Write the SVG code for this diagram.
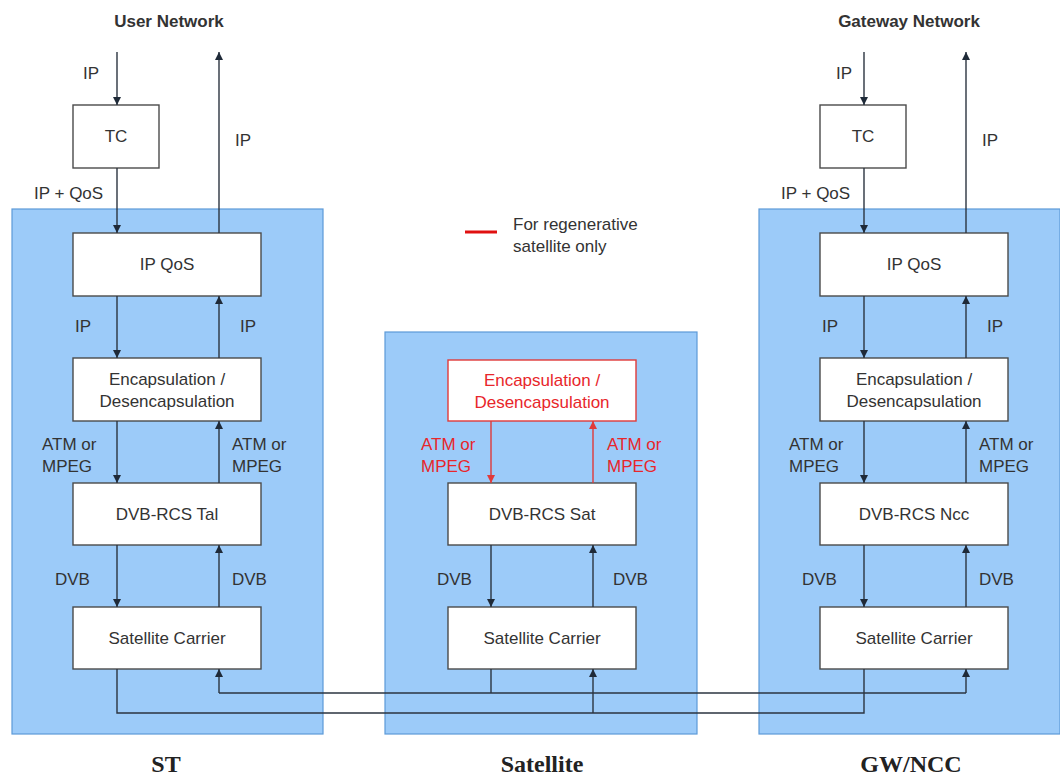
<svg xmlns="http://www.w3.org/2000/svg" width="1060" height="776" viewBox="0 0 1060 776">
<defs>
<style>
.panel{fill:#9ccbf9;stroke:#5d9ad8;stroke-width:1.2}
.box{fill:#fff;stroke:#4a4a4a;stroke-width:1.4}
.rbox{fill:#fff;stroke:#e03a3a;stroke-width:1.4}
.t{font-family:"Liberation Sans",Arial,sans-serif;font-size:17px;fill:#333}
.bt{font-family:"Liberation Sans",Arial,sans-serif;font-size:17px;fill:#333;text-anchor:middle}
.rt{font-family:"Liberation Sans",Arial,sans-serif;font-size:17px;fill:#e8262b}
.rbt{font-family:"Liberation Sans",Arial,sans-serif;font-size:17px;fill:#e8262b;text-anchor:middle}
.hd{font-family:"Liberation Sans",Arial,sans-serif;font-size:17px;font-weight:bold;fill:#333;text-anchor:middle}
.cap{font-family:"Liberation Serif","Times New Roman",serif;font-size:24px;font-weight:bold;fill:#222;text-anchor:middle}
.ln{fill:none;stroke:#2b3440;stroke-width:1.4}
.rln{fill:none;stroke:#e03a3a;stroke-width:1.4}
</style>
<marker id="ah" viewBox="0 0 10 10" refX="10" refY="5" markerWidth="8" markerHeight="8" markerUnits="userSpaceOnUse" orient="auto"><path d="M0,0 L10,5 L0,10 z" fill="#1f2a38"/></marker>
<marker id="rah" viewBox="0 0 10 10" refX="10" refY="5" markerWidth="8" markerHeight="8" markerUnits="userSpaceOnUse" orient="auto"><path d="M0,0 L10,5 L0,10 z" fill="#e03a3a"/></marker>
</defs>
<rect width="1060" height="776" fill="#fff"/>

<g id="panel-st"><rect class="panel" x="12" y="209" width="311" height="525"/></g>
<g id="panel-sat"><rect class="panel" x="385" y="332" width="312" height="402"/></g>
<g id="panel-gw"><rect class="panel" x="759" y="209" width="301" height="525"/></g>

<g id="headings">
<text class="hd" x="169" y="27">User Network</text>
<text class="hd" x="909" y="27">Gateway Network</text>
</g>

<g id="legend">
<line x1="465" y1="232" x2="497" y2="232" stroke="#e01010" stroke-width="3"/>
<text class="t" x="513" y="230">For regenerative</text>
<text class="t" x="513" y="252">satellite only</text>
</g>

<g id="st-tc"><rect class="box" x="73" y="105" width="86" height="63"/><text class="bt" x="116" y="142">TC</text></g>
<g id="st-ipqos"><rect class="box" x="73" y="233" width="188" height="63"/><text class="bt" x="167" y="270">IP QoS</text></g>
<g id="st-encap"><rect class="box" x="73" y="358" width="188" height="63"/><text class="bt" x="167" y="385">Encapsulation /</text><text class="bt" x="167" y="407">Desencapsulation</text></g>
<g id="st-dvb"><rect class="box" x="73" y="483" width="188" height="62"/><text class="bt" x="167" y="520">DVB-RCS Tal</text></g>
<g id="st-carrier"><rect class="box" x="73" y="607" width="188" height="62"/><text class="bt" x="167" y="644">Satellite Carrier</text></g>

<g id="sat-encap"><rect class="rbox" x="448" y="360" width="188" height="61"/><text class="rbt" x="542" y="386">Encapsulation /</text><text class="rbt" x="542" y="408">Desencapsulation</text></g>
<g id="sat-dvb"><rect class="box" x="448" y="483" width="188" height="62"/><text class="bt" x="542" y="520">DVB-RCS Sat</text></g>
<g id="sat-carrier"><rect class="box" x="448" y="607" width="188" height="62"/><text class="bt" x="542" y="644">Satellite Carrier</text></g>

<g id="gw-tc"><rect class="box" x="820" y="105" width="86" height="63"/><text class="bt" x="863" y="142">TC</text></g>
<g id="gw-ipqos"><rect class="box" x="820" y="233" width="188" height="63"/><text class="bt" x="914" y="270">IP QoS</text></g>
<g id="gw-encap"><rect class="box" x="820" y="358" width="188" height="63"/><text class="bt" x="914" y="385">Encapsulation /</text><text class="bt" x="914" y="407">Desencapsulation</text></g>
<g id="gw-dvb"><rect class="box" x="820" y="483" width="188" height="62"/><text class="bt" x="914" y="520">DVB-RCS Ncc</text></g>
<g id="gw-carrier"><rect class="box" x="820" y="607" width="188" height="62"/><text class="bt" x="914" y="644">Satellite Carrier</text></g>

<g id="connectors">
<line class="ln" x1="117" y1="52" x2="117" y2="105" marker-end="url(#ah)"/>
<line class="ln" x1="219" y1="233" x2="219" y2="52" marker-end="url(#ah)"/>
<line class="ln" x1="117" y1="168" x2="117" y2="233" marker-end="url(#ah)"/>
<line class="ln" x1="117" y1="296" x2="117" y2="358" marker-end="url(#ah)"/>
<line class="ln" x1="219" y1="358" x2="219" y2="296" marker-end="url(#ah)"/>
<line class="ln" x1="117" y1="421" x2="117" y2="483" marker-end="url(#ah)"/>
<line class="ln" x1="219" y1="483" x2="219" y2="421" marker-end="url(#ah)"/>
<line class="ln" x1="117" y1="545" x2="117" y2="607" marker-end="url(#ah)"/>
<line class="ln" x1="219" y1="607" x2="219" y2="545" marker-end="url(#ah)"/>
<line class="rln" x1="491" y1="421" x2="491" y2="483" marker-end="url(#rah)"/>
<line class="rln" x1="593" y1="483" x2="593" y2="421" marker-end="url(#rah)"/>
<line class="ln" x1="491" y1="545" x2="491" y2="607" marker-end="url(#ah)"/>
<line class="ln" x1="593" y1="607" x2="593" y2="545" marker-end="url(#ah)"/>
<line class="ln" x1="864" y1="52" x2="864" y2="105" marker-end="url(#ah)"/>
<line class="ln" x1="966" y1="233" x2="966" y2="52" marker-end="url(#ah)"/>
<line class="ln" x1="864" y1="168" x2="864" y2="233" marker-end="url(#ah)"/>
<line class="ln" x1="864" y1="296" x2="864" y2="358" marker-end="url(#ah)"/>
<line class="ln" x1="966" y1="358" x2="966" y2="296" marker-end="url(#ah)"/>
<line class="ln" x1="864" y1="421" x2="864" y2="483" marker-end="url(#ah)"/>
<line class="ln" x1="966" y1="483" x2="966" y2="421" marker-end="url(#ah)"/>
<line class="ln" x1="864" y1="545" x2="864" y2="607" marker-end="url(#ah)"/>
<line class="ln" x1="966" y1="607" x2="966" y2="545" marker-end="url(#ah)"/>
<polyline class="ln" points="117,669 117,713 864,713 864,669"/>
<line class="ln" x1="593" y1="713" x2="593" y2="669" marker-end="url(#ah)"/>
<line class="ln" x1="491" y1="669" x2="491" y2="693"/>
<line class="ln" x1="219" y1="693" x2="966" y2="693"/>
<line class="ln" x1="219" y1="693" x2="219" y2="669" marker-end="url(#ah)"/>
<line class="ln" x1="966" y1="693" x2="966" y2="669" marker-end="url(#ah)"/>
</g>

<g id="labels">
<text class="t" x="83" y="79">IP</text>
<text class="t" x="235" y="146">IP</text>
<text class="t" x="34" y="199">IP + QoS</text>
<text class="t" x="75" y="332">IP</text>
<text class="t" x="240" y="332">IP</text>
<text class="t" x="42" y="450">ATM or</text>
<text class="t" x="42" y="472">MPEG</text>
<text class="t" x="232" y="450">ATM or</text>
<text class="t" x="232" y="472">MPEG</text>
<text class="t" x="55" y="585">DVB</text>
<text class="t" x="232" y="585">DVB</text>
<text class="rt" x="421" y="450">ATM or</text>
<text class="rt" x="421" y="472">MPEG</text>
<text class="rt" x="607" y="450">ATM or</text>
<text class="rt" x="607" y="472">MPEG</text>
<text class="t" x="437" y="585">DVB</text>
<text class="t" x="613" y="585">DVB</text>
<text class="t" x="836" y="79">IP</text>
<text class="t" x="982" y="146">IP</text>
<text class="t" x="781" y="199">IP + QoS</text>
<text class="t" x="822" y="332">IP</text>
<text class="t" x="987" y="332">IP</text>
<text class="t" x="789" y="450">ATM or</text>
<text class="t" x="789" y="472">MPEG</text>
<text class="t" x="979" y="450">ATM or</text>
<text class="t" x="979" y="472">MPEG</text>
<text class="t" x="802" y="585">DVB</text>
<text class="t" x="979" y="585">DVB</text>
</g>

<g id="captions">
<text class="cap" x="166" y="772">ST</text>
<text class="cap" x="542" y="772">Satellite</text>
<text class="cap" x="911" y="772">GW/NCC</text>
</g>
</svg>
